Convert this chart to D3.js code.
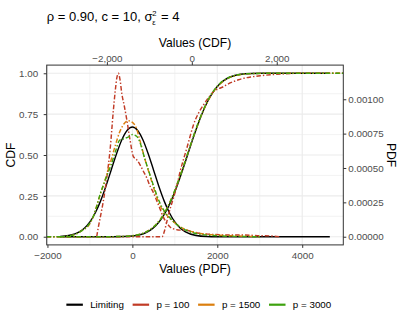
<!DOCTYPE html>
<html>
<head>
<meta charset="utf-8">
<script src="https://d3js.org/d3.v7.min.js"></script>
<style>
  body { margin: 0; background: #fff; }
  text { font-family: "Liberation Sans", Arial, sans-serif; }
</style>
</head>
<body>
<script>
// ---------- data ----------
var seriesNames  = ["Limiting", "p = 100", "p = 1500", "p = 3000"];
var seriesColors = ["#000000", "#C13B26", "#DB7F0E", "#3EA20F"];

var xTicksPdf = [-2000, 0, 2000, 4000];
var xTicksCdf = [-2000, 0, 2000];
var cdfTicks  = [0, 0.25, 0.5, 0.75, 1];
var pdfTicks  = [0, 0.00025, 0.0005, 0.00075, 0.001];
var cdfShift  = 1400;   // top axis = bottom axis - 1400

// densities (bottom axis values)
var limPdfX = [-1700, -1500, -1250, -1125, -1000, -875, -750, -625, -500, -375, -250, -125, 0,
               125, 250, 375, 500, 625, 750, 875, 1000, 1125, 1250, 1500, 1750, 2000, 2500, 3000, 3500, 4000, 4650];
var limPdfY = [0.025e-4, 0.089e-4, 0.351e-4, 0.635e-4, 1.08e-4, 1.73e-4, 2.59e-4, 3.65e-4, 4.84e-4, 6.02e-4, 7.04e-4, 7.73e-4, 7.98e-4,
               7.73e-4, 7.04e-4, 6.02e-4, 4.84e-4, 3.65e-4, 2.59e-4, 1.73e-4, 1.08e-4, 0.635e-4, 0.351e-4, 0.089e-4, 0.017e-4, 0.003e-4, 0, 0, 0, 0, 0];

var p100PdfX = [-840, -800, -740, -680, -600, -525, -447, -400, -367, -330, -290, -250, -190, -130, -55, 24, 104, 181, 259, 339,
                416, 495, 574, 652, 729, 809, 887, 1005, 1122, 1240, 1358, 1475, 1593, 1828, 2064, 2299, 2652, 3005, 3240, 3475];
var p100PdfY = [0, 0.71e-4, 1.66e-4, 2.66e-4, 4.36e-4, 6.31e-4, 9.21e-4, 10.70e-4, 11.53e-4, 11.89e-4, 11.41e-4, 10.44e-4, 9.51e-4, 8.49e-4, 7.04e-4, 5.83e-4, 5.59e-4, 5.23e-4, 4.76e-4, 4.28e-4,
                3.69e-4, 3.21e-4, 2.62e-4, 2.02e-4, 1.43e-4, 1.01e-4, 0.71e-4, 0.54e-4, 0.48e-4, 0.48e-4, 0.42e-4, 0.30e-4, 0.24e-4, 0.18e-4, 0.14e-4, 0.12e-4, 0.12e-4, 0.07e-4, 0.06e-4, 0];

var pBigPdfX = [-1700, -1400, -1200, -1000, -918, -840, -760, -690, -619, -500, -400, -300, -200, -100, 0, 100, 181, 300, 416, 500,
                652, 770, 887, 1000, 1100, 1300, 1600, 2000, 2500, 3000];
var p1500PdfY = [0, 0.12e-4, 0.42e-4, 0.95e-4, 1.49e-4, 2.26e-4, 3.03e-4, 3.69e-4, 4.36e-4, 5.59e-4, 6.66e-4, 7.61e-4, 8.20e-4, 8.44e-4, 8.32e-4, 7.85e-4, 6.96e-4, 5.59e-4, 4.42e-4, 3.57e-4,
                 2.26e-4, 1.72e-4, 1.31e-4, 1.01e-4, 0.77e-4, 0.48e-4, 0.24e-4, 0.12e-4, 0.05e-4, 0];
var p3000PdfY = [0, 0.12e-4, 0.42e-4, 1.01e-4, 1.49e-4, 2.20e-4, 3.09e-4, 3.69e-4, 4.28e-4, 5.23e-4, 6.18e-4, 7.02e-4, 7.13e-4, 7.25e-4, 7.43e-4, 7.31e-4, 6.84e-4, 5.59e-4, 4.49e-4, 3.69e-4,
                 2.44e-4, 1.78e-4, 1.37e-4, 1.01e-4, 0.77e-4, 0.42e-4, 0.18e-4, 0.07e-4, 0.02e-4, 0];

// distribution functions (top axis values)
var limCdfX = [-3100, -2100, -1850, -1600, -1350, -1225, -1100, -975, -850, -725, -600, -475, -350, -225, -100,
               25, 150, 275, 400, 525, 650, 775, 900, 1150, 1400, 1650, 1900, 3250];
var limCdfY = [0, 0.00003, 0.0002, 0.0013, 0.0062, 0.0122, 0.0228, 0.0401, 0.0668, 0.1056, 0.1587, 0.2266, 0.3085, 0.4013, 0.5,
               0.5987, 0.6915, 0.7734, 0.8413, 0.8944, 0.9332, 0.9599, 0.9772, 0.9938, 0.9987, 0.9998, 1, 1];

var p100CdfX = [-700, -650, -600, -552, -500, -434, -350, -276, -200, -118, -40, 38, 150, 274, 390, 509, 625, 745, 860, 981,
                1100, 1217, 1400, 1611, 1850, 2083, 2554];
var p100CdfY = [0, 0.03, 0.08, 0.133, 0.18, 0.235, 0.315, 0.398, 0.47, 0.541, 0.615, 0.684, 0.752, 0.806, 0.85, 0.887, 0.905, 0.918, 0.935, 0.949,
                0.96, 0.969, 0.978, 0.985, 0.991, 0.995, 1];

var pBigCdfX = [-2100, -1600, -1350, -1100, -975, -850, -725, -600, -475, -350, -225, -100, 25, 150, 275, 400, 525, 650, 900, 1150, 1400, 1900];
var p1500CdfY = [0, 0.002, 0.008, 0.027, 0.046, 0.074, 0.113, 0.168, 0.236, 0.318, 0.41, 0.506, 0.602, 0.693, 0.774, 0.84, 0.893, 0.931, 0.975, 0.992, 0.998, 1];
var p3000CdfY = [0, 0.002, 0.008, 0.026, 0.045, 0.072, 0.111, 0.165, 0.235, 0.318, 0.41, 0.508, 0.605, 0.697, 0.778, 0.845, 0.897, 0.935, 0.977, 0.993, 0.998, 1];

// ---------- layout ----------
var W = 407, H = 326;
var panel = {left: 46.7, right: 343.3, top: 65.1, bottom: 244.9};
var tickCol = "#4d4d4d", gridCol = "#ebebeb";

var svg = d3.select("body").append("svg").attr("width", W).attr("height", H);
svg.append("rect").attr("width", W).attr("height", H).attr("fill", "#fff");

var allX = limPdfX.concat(limCdfX.map(function(d) { return d + cdfShift; }));
var ext = d3.extent(allX), pad = (ext[1] - ext[0]) * 0.05;
var x = d3.scaleLinear().domain([ext[0] - pad, ext[1] + pad]).range([panel.left, panel.right]);
var xTop = d3.scaleLinear().domain(x.domain().map(function(d) { return d - cdfShift; })).range(x.range());
var y = d3.scaleLinear().domain([-0.05, 1.05]).range([panel.bottom, panel.top]);
var pdfMax = d3.max(p100PdfY);
var yPdf = d3.scaleLinear().domain([-0.05 * pdfMax, 1.05 * pdfMax]).range([panel.bottom, panel.top]);

// grid
var grid = svg.append("g");
[-1000, 1000, 3000].forEach(function(v) {
  grid.append("line").attr("x1", x(v)).attr("x2", x(v)).attr("y1", panel.top).attr("y2", panel.bottom)
      .attr("stroke", gridCol).attr("stroke-width", 0.6);
});
[0.125, 0.375, 0.625, 0.875].forEach(function(v) {
  grid.append("line").attr("y1", y(v)).attr("y2", y(v)).attr("x1", panel.left).attr("x2", panel.right)
      .attr("stroke", gridCol).attr("stroke-width", 0.6);
});
xTicksPdf.forEach(function(v) {
  grid.append("line").attr("x1", x(v)).attr("x2", x(v)).attr("y1", panel.top).attr("y2", panel.bottom)
      .attr("stroke", gridCol).attr("stroke-width", 1.1);
});
cdfTicks.forEach(function(v) {
  grid.append("line").attr("y1", y(v)).attr("y2", y(v)).attr("x1", panel.left).attr("x2", panel.right)
      .attr("stroke", gridCol).attr("stroke-width", 1.1);
});

// curves
svg.append("clipPath").attr("id", "clip").append("rect")
   .attr("x", panel.left).attr("y", panel.top)
   .attr("width", panel.right - panel.left).attr("height", panel.bottom - panel.top);
var plot = svg.append("g").attr("clip-path", "url(#clip)");

var pdfLine = d3.line().x(function(d) { return x(d[0]); }).y(function(d) { return yPdf(d[1]); }).curve(d3.curveMonotoneX);
var cdfLine = d3.line().x(function(d) { return xTop(d[0]); }).y(function(d) { return y(d[1]); }).curve(d3.curveMonotoneX);

// empirical cdfs run out to both panel edges
function ecdfPad(xs, ys) {
  var pts = d3.zip(xs, ys);
  pts.unshift([xTop.domain()[0], 0]);
  pts.push([xTop.domain()[1], 1]);
  return pts;
}

var curves = [
  {pdf: d3.zip(limPdfX, limPdfY),    cdf: d3.zip(limCdfX, limCdfY)},
  {pdf: d3.zip(p100PdfX, p100PdfY),  cdf: ecdfPad(p100CdfX, p100CdfY)},
  {pdf: d3.zip(pBigPdfX, p1500PdfY), cdf: ecdfPad(pBigCdfX, p1500CdfY)},
  {pdf: d3.zip(pBigPdfX, p3000PdfY), cdf: ecdfPad(pBigCdfX, p3000CdfY)}
];

curves.forEach(function(c, i) {
  [pdfLine(c.pdf), cdfLine(c.cdf)].forEach(function(path) {
    plot.append("path").attr("d", path).attr("fill", "none")
        .attr("stroke", seriesColors[i])
        .attr("stroke-width", i === 0 ? 1.4 : 1.45)
        .attr("stroke-dasharray", i === 0 ? null : "4.5,2,1.4,2");
  });
});

// border
svg.append("rect").attr("x", panel.left).attr("y", panel.top)
   .attr("width", panel.right - panel.left).attr("height", panel.bottom - panel.top)
   .attr("fill", "none").attr("stroke", "#333").attr("stroke-width", 1);

// axes
function styleAxis(g) {
  g.select(".domain").remove();
  g.selectAll(".tick line").attr("stroke", "#333");
  g.selectAll(".tick text").attr("fill", tickCol).style("font-size", "9.8px")
   .style("font-family", "'Liberation Sans', Arial, sans-serif");
}
svg.append("g").attr("transform", "translate(0," + panel.bottom + ")")
   .call(d3.axisBottom(x).tickValues(xTicksPdf).tickSize(3).tickPadding(4.4).tickFormat(d3.format("d")))
   .call(styleAxis);
svg.append("g").attr("transform", "translate(0," + panel.top + ")")
   .call(d3.axisTop(xTop).tickValues(xTicksCdf).tickSize(3).tickPadding(0.6).tickFormat(d3.format(",d")))
   .call(styleAxis);
svg.append("g").attr("transform", "translate(" + panel.left + ",0)")
   .call(d3.axisLeft(y).tickValues(cdfTicks).tickSize(3).tickPadding(5.5).tickFormat(d3.format(".2f")))
   .call(styleAxis);
svg.append("g").attr("transform", "translate(" + panel.right + ",0)")
   .call(d3.axisRight(yPdf).tickValues(pdfTicks).tickSize(3).tickPadding(2).tickFormat(d3.format(".5f")))
   .call(styleAxis);

// axis titles
svg.append("text").attr("x", (panel.left + panel.right) / 2).attr("y", 46.5).attr("text-anchor", "middle")
   .style("font-size", "12.1px").text("Values (CDF)");
svg.append("text").attr("x", (panel.left + panel.right) / 2).attr("y", 272.5).attr("text-anchor", "middle")
   .style("font-size", "12.1px").text("Values (PDF)");
svg.append("text").attr("transform", "translate(15," + (panel.top + panel.bottom) / 2 + ") rotate(-90)")
   .attr("text-anchor", "middle").style("font-size", "12.1px").text("CDF");
svg.append("text").attr("transform", "translate(387," + (panel.top + panel.bottom) / 2 + ") rotate(90)")
   .attr("text-anchor", "middle").style("font-size", "12.1px").text("PDF");

// title: rho = 0.90, c = 10, sigma_eps^2 = 4
var t1 = svg.append("text").attr("x", panel.left).attr("y", 21).style("font-size", "13px")
   .text("\u03C1 = 0.90, c = 10, \u03C3");
var tx = panel.left + t1.node().getComputedTextLength();
svg.append("text").attr("x", tx - 0.3).attr("y", 15.6).style("font-size", "7.6px").text("2");
svg.append("text").attr("x", tx - 0.3).attr("y", 24.6).style("font-size", "7.6px").text("\u03B5");
svg.append("text").attr("x", tx + 8.5).attr("y", 21).style("font-size", "13px").text("= 4");

// legend
var leg = svg.append("g");
var legY = 304.7, keyW = 16.5, keyGap = 7.3, itemGap = 8.7;
var items = seriesNames.map(function(name, i) {
  var g = leg.append("g");
  g.append("line").attr("x1", 0).attr("x2", keyW).attr("y1", legY).attr("y2", legY)
   .attr("stroke", seriesColors[i]).attr("stroke-width", 2.2);
  var t = g.append("text").attr("x", keyW + keyGap).attr("y", legY).attr("dy", "0.35em")
   .style("font-size", "9.8px").attr("fill", "#000").text(name);
  return {g: g, w: keyW + keyGap + t.node().getComputedTextLength()};
});
var total = d3.sum(items, function(d) { return d.w; }) + itemGap * (items.length - 1);
var lx = 198.8 - total / 2;
items.forEach(function(it) {
  it.g.attr("transform", "translate(" + lx + ",0)");
  lx += it.w + itemGap;
});
</script>
</body>
</html>
